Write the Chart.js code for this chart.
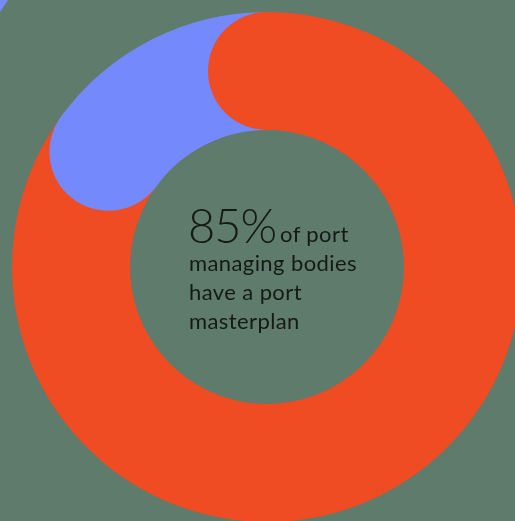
<!DOCTYPE html>
<html>
<head>
<meta charset="utf-8">
<script src="https://cdn.jsdelivr.net/npm/chart.js@4/dist/chart.umd.min.js"></script>
<style>
  html, body { margin: 0; padding: 0; width: 515px; height: 521px; overflow: hidden; background: #5e7b6b; }
  #wrap { position: absolute; left: 0; top: 0; width: 534px; height: 534px; }
  .corner { position: absolute; left: 0; top: 0; width: 8px; height: 12px; background: #748afc;
            clip-path: polygon(0 0, 100% 0, 0 100%); }
  .txt { position: absolute; white-space: nowrap; color: #161a17; font-family: Lato, "Open Sans", sans-serif; }
</style>
</head>
<body>
<div class="corner"></div>
<div id="wrap"><canvas id="c" width="534" height="534"></canvas></div>
<div id="labels"></div>
<script>
// Share of port managing bodies with / without a port masterplan
const categories = ['Have a port masterplan', 'No port masterplan'];
const shares = [85, 15];
const sliceColors = ['#ef4c23', '#748afc'];

const headline = '85%';
const captionLines = ['of port', 'managing bodies', 'have a port', 'masterplan'];

// Rounded caps at the leading edge of every slice, drawn from the arc geometry
const roundCaps = {
  id: 'roundCaps',
  afterDatasetsDraw(chart) {
    const ctx = chart.ctx;
    const arcs = chart.getDatasetMeta(0).data;
    for (let i = arcs.length - 1; i >= 0; i--) {
      const a = arcs[i].getProps(['x', 'y', 'startAngle', 'innerRadius', 'outerRadius'], true);
      const mid = (a.innerRadius + a.outerRadius) / 2;
      const r = (a.outerRadius - a.innerRadius) / 2;
      ctx.save();
      ctx.fillStyle = arcs[i].options.backgroundColor;
      ctx.beginPath();
      ctx.arc(a.x + mid * Math.cos(a.startAngle), a.y + mid * Math.sin(a.startAngle), r, 0, Math.PI * 2);
      ctx.fill();
      ctx.restore();
    }
  }
};

new Chart(document.getElementById('c'), {
  type: 'doughnut',
  data: {
    labels: categories,
    datasets: [{ data: shares, backgroundColor: sliceColors, borderWidth: 0, hoverOffset: 0 }]
  },
  options: {
    responsive: false,
    animation: false,
    cutout: '53.7%',
    layout: { padding: 12 },
    events: [],
    plugins: { legend: { display: false }, tooltip: { enabled: false } }
  },
  plugins: [roundCaps]
});

// Centre caption
function place(text, x, baseline, size, weight, spacing) {
  const d = document.createElement('div');
  d.className = 'txt';
  d.textContent = text;
  d.style.fontSize = size + 'px';
  d.style.lineHeight = size + 'px';
  d.style.fontWeight = weight;
  d.style.letterSpacing = spacing + 'px';
  d.style.left = x + 'px';
  d.style.top = (baseline - 0.887 * size) + 'px';
  document.getElementById('labels').appendChild(d);
}
place(headline, 188, 244, 47, 300, -1);
place(captionLines[0], 280, 243, 22, 400, 0.4);
place(captionLines[1], 189, 272, 22, 400, 0.4);
place(captionLines[2], 189, 301, 22, 400, 0.4);
place(captionLines[3], 189, 330, 22, 400, 0.4);
</script>
</body>
</html>
